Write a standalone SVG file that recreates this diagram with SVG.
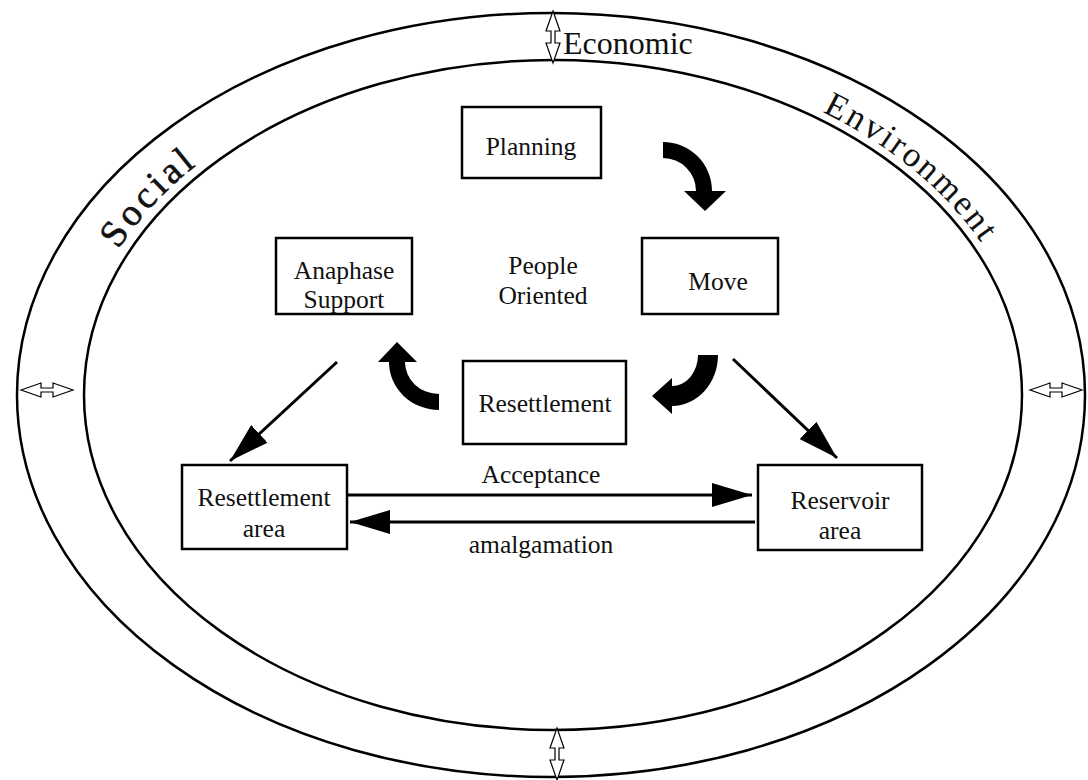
<svg xmlns="http://www.w3.org/2000/svg" width="1088" height="780" viewBox="0 0 1088 780">
<style>
.ring{fill:none;stroke:#000;stroke-width:2.5}
.box{fill:#fff;stroke:#000;stroke-width:2.5}
.t{font-family:"Liberation Serif","Times New Roman",serif;font-size:25.5px;fill:#111;text-anchor:middle}
.big{font-family:"Liberation Serif","Times New Roman",serif;font-size:32px;fill:#111}
.dbl{fill:#fff;stroke:#000;stroke-width:1.2}
.ln{stroke:#000;stroke-width:3;fill:none}
.bend{fill:#000}
</style>
<defs>
<marker id="ah" viewBox="0 0 40 24" refX="40" refY="12" markerWidth="40" markerHeight="24" markerUnits="userSpaceOnUse" orient="auto">
<path d="M0,0 L40,12 L0,24 Z" fill="#000"/>
</marker>
<path id="dbl" d="M-26,0 L-6,-7 L-6,-2 L6,-2 L6,-7 L26,0 L6,7 L6,2 L-6,2 L-6,7 Z"/>
<path id="arcpath" d="M73,395 A479,343 0 0 1 1031,395"/>
</defs>
<rect width="1088" height="780" fill="#fff"/>
<g id="rings">
<ellipse class="ring" cx="551" cy="395" rx="534" ry="382"/>
<ellipse class="ring" cx="553" cy="395" rx="469" ry="335"/>
</g>
<g id="ring-arrows">
<use href="#dbl" class="dbl" transform="translate(553,37) rotate(90)"/>
<use href="#dbl" class="dbl" transform="translate(557,754) rotate(90)"/>
<use href="#dbl" class="dbl" transform="translate(47,390)"/>
<use href="#dbl" class="dbl" transform="translate(1056,390)"/>
</g>
<g id="ring-labels">
<text class="big" x="563" y="54">Economic</text>
<text class="big" style="letter-spacing:4px;font-size:38px;stroke:#111;stroke-width:0.6"><textPath href="#arcpath" startOffset="214" text-anchor="middle">Social</textPath></text>
<text class="big" style="letter-spacing:2.5px;font-size:35px"><textPath href="#arcpath" startOffset="1034" text-anchor="middle">Environment</textPath></text>
</g>
<g id="connectors">
<path class="bend" d="M663,142 A49,49 0 0 1 712,191 L726,191 L705,211 L684,191 L696,191 A33,33 0 0 0 663,158 Z"/>
<path class="bend" d="M698,355 L718,355 A46,51 0 0 1 672,406 L672,414 L652,396 L672,378 L672,386 A26,31 0 0 0 698,355 Z"/>
<path class="bend" d="M439,394 L439,410 A50,48 0 0 1 389,362 L378,362 L397,342 L417,362 L405,362 A34,32 0 0 0 439,394 Z"/>
<line class="ln" x1="337" y1="362" x2="230" y2="461" marker-end="url(#ah)"/>
<line class="ln" x1="733" y1="359" x2="837" y2="458" marker-end="url(#ah)"/>
<line class="ln" x1="348" y1="495" x2="752" y2="495" marker-end="url(#ah)"/>
<line class="ln" x1="755" y1="522" x2="350" y2="522" marker-end="url(#ah)"/>
<text class="t" x="541" y="483">Acceptance</text>
<text class="t" x="541" y="553">amalgamation</text>
</g>
<g id="planning">
<rect class="box" x="462" y="107" width="139" height="71"/>
<text class="t" x="531" y="155">Planning</text>
</g>
<g id="anaphase">
<rect class="box" x="276" y="238" width="136" height="76"/>
<text class="t" x="344" y="279">Anaphase</text>
<text class="t" x="344" y="308">Support</text>
</g>
<g id="people">
<text class="t" x="543" y="274">People</text>
<text class="t" x="543" y="304">Oriented</text>
</g>
<g id="move">
<rect class="box" x="642" y="238" width="136" height="76"/>
<text class="t" x="718" y="290">Move</text>
</g>
<g id="resettlement">
<rect class="box" x="463" y="361" width="163" height="83"/>
<text class="t" x="545" y="412">Resettlement</text>
</g>
<g id="resettlement-area">
<rect class="box" x="182" y="465" width="165" height="84"/>
<text class="t" x="264" y="506">Resettlement</text>
<text class="t" x="264" y="537">area</text>
</g>
<g id="reservoir-area">
<rect class="box" x="758" y="465" width="164" height="85"/>
<text class="t" x="840" y="509">Reservoir</text>
<text class="t" x="840" y="539">area</text>
</g>
</svg>
